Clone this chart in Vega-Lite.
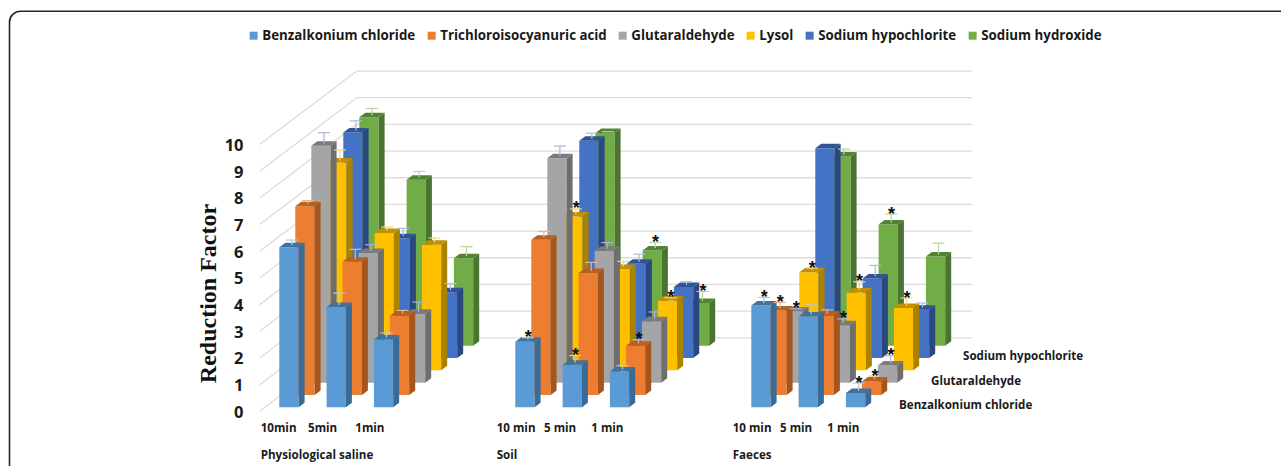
{
"$schema":"https://vega.github.io/schema/vega-lite/v6.json",
"width":1038,"height":466,"padding":{"left":243,"top":0,"right":0,"bottom":0},"autosize":"none","background":"white",
"config":{"view":{"stroke":null}},
"datasets":{
"bars":[
{"group":"Physiological saline","time":"10 min","series":"Sodium hydroxide","value":8.56,"err":0.33,"star":false},
{"group":"Physiological saline","time":"5 min","series":"Sodium hydroxide","value":6.22,"err":0.31,"star":false},
{"group":"Physiological saline","time":"1 min","series":"Sodium hydroxide","value":3.28,"err":0.43,"star":false},
{"group":"Soil","time":"10 min","series":"Sodium hydroxide","value":7.97,"err":0.05,"star":false},
{"group":"Soil","time":"5 min","series":"Sodium hydroxide","value":3.57,"err":0.3,"star":true},
{"group":"Soil","time":"1 min","series":"Sodium hydroxide","value":1.6,"err":0.43,"star":true},
{"group":"Faeces","time":"10 min","series":"Sodium hydroxide","value":7.09,"err":0.28,"star":false},
{"group":"Faeces","time":"5 min","series":"Sodium hydroxide","value":4.54,"err":0.39,"star":true},
{"group":"Faeces","time":"1 min","series":"Sodium hydroxide","value":3.34,"err":0.5,"star":false},
{"group":"Physiological saline","time":"10 min","series":"Sodium hypochlorite","value":8.45,"err":0.44,"star":false},
{"group":"Physiological saline","time":"5 min","series":"Sodium hypochlorite","value":4.49,"err":0.37,"star":false},
{"group":"Physiological saline","time":"1 min","series":"Sodium hypochlorite","value":2.46,"err":0.33,"star":false},
{"group":"Soil","time":"10 min","series":"Sodium hypochlorite","value":8.14,"err":0.29,"star":false},
{"group":"Soil","time":"5 min","series":"Sodium hypochlorite","value":3.53,"err":0.36,"star":false},
{"group":"Soil","time":"1 min","series":"Sodium hypochlorite","value":2.66,"err":0.2,"star":false},
{"group":"Faeces","time":"10 min","series":"Sodium hypochlorite","value":7.86,"err":0,"star":false},
{"group":"Faeces","time":"5 min","series":"Sodium hypochlorite","value":2.98,"err":0.49,"star":false},
{"group":"Faeces","time":"1 min","series":"Sodium hypochlorite","value":1.81,"err":0.25,"star":false},
{"group":"Physiological saline","time":"10 min","series":"Lysol","value":7.79,"err":0.47,"star":false},
{"group":"Physiological saline","time":"5 min","series":"Lysol","value":5.15,"err":0.22,"star":false},
{"group":"Physiological saline","time":"1 min","series":"Lysol","value":4.71,"err":0.25,"star":false},
{"group":"Soil","time":"10 min","series":"Lysol","value":5.77,"err":0.28,"star":true},
{"group":"Soil","time":"5 min","series":"Lysol","value":3.8,"err":0.28,"star":false},
{"group":"Soil","time":"1 min","series":"Lysol","value":2.62,"err":0.1,"star":true},
{"group":"Faeces","time":"10 min","series":"Lysol","value":3.68,"err":0.15,"star":true},
{"group":"Faeces","time":"5 min","series":"Lysol","value":2.92,"err":0.4,"star":true},
{"group":"Faeces","time":"1 min","series":"Lysol","value":2.34,"err":0.37,"star":true},
{"group":"Physiological saline","time":"10 min","series":"Glutaraldehyde","value":8.88,"err":0.49,"star":false},
{"group":"Physiological saline","time":"5 min","series":"Glutaraldehyde","value":4.86,"err":0.31,"star":false},
{"group":"Physiological saline","time":"1 min","series":"Glutaraldehyde","value":2.58,"err":0.44,"star":false},
{"group":"Soil","time":"10 min","series":"Glutaraldehyde","value":8.41,"err":0.46,"star":false},
{"group":"Soil","time":"5 min","series":"Glutaraldehyde","value":4.94,"err":0.31,"star":false},
{"group":"Soil","time":"1 min","series":"Glutaraldehyde","value":2.3,"err":0.35,"star":false},
{"group":"Faeces","time":"10 min","series":"Glutaraldehyde","value":2.67,"err":0.1,"star":true},
{"group":"Faeces","time":"5 min","series":"Glutaraldehyde","value":2.15,"err":0.24,"star":true},
{"group":"Faeces","time":"1 min","series":"Glutaraldehyde","value":0.64,"err":0.37,"star":true},
{"group":"Physiological saline","time":"10 min","series":"Trichloroisocyanuric acid","value":7.08,"err":0.21,"star":false},
{"group":"Physiological saline","time":"5 min","series":"Trichloroisocyanuric acid","value":5.0,"err":0.46,"star":false},
{"group":"Physiological saline","time":"1 min","series":"Trichloroisocyanuric acid","value":2.97,"err":0.2,"star":false},
{"group":"Soil","time":"10 min","series":"Trichloroisocyanuric acid","value":5.82,"err":0.31,"star":false},
{"group":"Soil","time":"5 min","series":"Trichloroisocyanuric acid","value":4.57,"err":0.4,"star":false},
{"group":"Soil","time":"1 min","series":"Trichloroisocyanuric acid","value":1.85,"err":0.22,"star":true},
{"group":"Faeces","time":"10 min","series":"Trichloroisocyanuric acid","value":3.17,"err":0.3,"star":true},
{"group":"Faeces","time":"5 min","series":"Trichloroisocyanuric acid","value":2.97,"err":0.22,"star":false},
{"group":"Faeces","time":"1 min","series":"Trichloroisocyanuric acid","value":0.51,"err":0.2,"star":true},
{"group":"Physiological saline","time":"10 min","series":"Benzalkonium chloride","value":6.0,"err":0.27,"star":false},
{"group":"Physiological saline","time":"5 min","series":"Benzalkonium chloride","value":3.76,"err":0.52,"star":false},
{"group":"Physiological saline","time":"1 min","series":"Benzalkonium chloride","value":2.54,"err":0.25,"star":false},
{"group":"Soil","time":"10 min","series":"Benzalkonium chloride","value":2.46,"err":0.15,"star":true},
{"group":"Soil","time":"5 min","series":"Benzalkonium chloride","value":1.6,"err":0.34,"star":true},
{"group":"Soil","time":"1 min","series":"Benzalkonium chloride","value":1.34,"err":0.22,"star":false},
{"group":"Faeces","time":"10 min","series":"Benzalkonium chloride","value":3.82,"err":0.3,"star":true},
{"group":"Faeces","time":"5 min","series":"Benzalkonium chloride","value":3.41,"err":0.46,"star":false},
{"group":"Faeces","time":"1 min","series":"Benzalkonium chloride","value":0.54,"err":0.37,"star":true}
],
"timeLabels":[
{"group":"Physiological saline","time":"10 min","label":"10min"},
{"group":"Physiological saline","time":"5 min","label":"5min"},
{"group":"Physiological saline","time":"1 min","label":"1min"},
{"group":"Soil","time":"10 min","label":"10 min"},
{"group":"Soil","time":"5 min","label":"5 min"},
{"group":"Soil","time":"1 min","label":"1 min"},
{"group":"Faeces","time":"10 min","label":"10 min"},
{"group":"Faeces","time":"5 min","label":"5 min"},
{"group":"Faeces","time":"1 min","label":"1 min"}
],
"groups":[{"group":"Physiological saline"},{"group":"Soil"},{"group":"Faeces"}],
"depthLabels":[{"series":"Benzalkonium chloride"},{"series":"Glutaraldehyde"},{"series":"Sodium hypochlorite"}],
"ticks":[{"tick":0},{"tick":1},{"tick":2},{"tick":3},{"tick":4},{"tick":5},{"tick":6},{"tick":7},{"tick":8},{"tick":9},{"tick":10}]
},
"encoding":{
"x":{"field":"px","type":"quantitative","scale":{"domain":[243,1281],"nice":false,"zero":false},"axis":null},
"y":{"field":"py","type":"quantitative","scale":{"domain":[-2.05,15.42],"nice":false,"zero":false},
   "axis":{"values":[0,1,2,3,4,5,6,7,8,9,10],"domain":false,"ticks":false,"grid":false,"labelPadding":0,"labelOffset":1,"labelFont":"Open Sans","labelFontWeight":"bold","labelFontSize":16.5,"labelColor":"#1a1a1a","title":"Reduction Factor","titleFont":"Liberation Serif","titleFontWeight":"bold","titleFontSize":24,"titleColor":"#111111","titleX":-23,"titleY":293}}
},
"layer":[
{"data":{"values":[{"frame":"border"}]},
 "transform":[{"calculate":"9.5","as":"px"},{"calculate":"1320","as":"px2"},{"calculate":"15.0","as":"py"},{"calculate":"-4","as":"py2"}],
 "mark":{"type":"rect","fill":"#ffffff","fillOpacity":0,"stroke":"#262626","strokeWidth":1.6,"strokeOpacity":1,"cornerRadius":11},
 "encoding":{"x2":{"field":"px2"},"y2":{"field":"py2"}}},
{"data":{"name":"ticks"},
 "transform":[{"calculate":"259.7","as":"px"},{"calculate":"356.7","as":"px2"},{"calculate":"datum.tick","as":"py"},{"calculate":"datum.tick+2.757","as":"py2"}],
 "mark":{"type":"rule","color":"#dcdcdc","strokeWidth":1.3},
 "encoding":{"x2":{"field":"px2"},"y2":{"field":"py2"}}},
{"data":{"name":"ticks"},
 "transform":[{"calculate":"356.7","as":"px"},{"calculate":"971.7","as":"px2"},{"calculate":"datum.tick+2.757","as":"py"}],
 "mark":{"type":"rule","color":"#dcdcdc","strokeWidth":1.3},
 "encoding":{"x2":{"field":"px2"}}},
{"data":{"name":"bars"},
 "transform":[
  {"calculate":"indexof(['Benzalkonium chloride','Trichloroisocyanuric acid','Glutaraldehyde','Lysol','Sodium hypochlorite','Sodium hydroxide'],datum.series)","as":"d"},
  {"calculate":"indexof(['10 min','5 min','1 min'],datum.time)","as":"t"},
  {"calculate":"indexof(['Physiological saline','Soil','Faeces'],datum.group)","as":"g"},
  {"calculate":"279.3+236*datum.g+47.3*datum.t+16*datum.d","as":"x0"},
  {"calculate":"0.15+0.4625*datum.d","as":"vb"},
  {"calculate":"datum.vb+datum.value","as":"vt"},
  {"calculate":"[{f:'front',x:datum.x0,y:datum.vt,y2:datum.vb},{f:'front',x:datum.x0+19.3,y:datum.vt,y2:datum.vb},{f:'side',x:datum.x0+19.3,y:datum.vt,y2:datum.vb},{f:'side',x:datum.x0+25.3,y:datum.vt+0.168,y2:datum.vb+0.168},{f:'top',x:datum.x0,y:datum.vt,y2:datum.vt},{f:'top',x:datum.x0+6,y:datum.vt+0.168,y2:datum.vt},{f:'top',x:datum.x0+19.3,y:datum.vt+0.168,y2:datum.vt},{f:'top',x:datum.x0+25.3,y:datum.vt+0.168,y2:datum.vt+0.168}]","as":"pts"},
  {"flatten":["pts"],"as":["p"]},
  {"calculate":"datum.p.x","as":"px"},
  {"calculate":"datum.p.y","as":"py"},
  {"calculate":"datum.p.y2","as":"py2"},
  {"calculate":"datum.series+'|'+datum.p.f","as":"face"},
  {"calculate":"datum.group+'|'+datum.time+'|'+datum.series+'|'+datum.p.f","as":"id"}
 ],
 "mark":{"type":"area","orient":"vertical","interpolate":"linear"},
 "encoding":{
  "y2":{"field":"py2"},
  "detail":{"field":"id"},
  "color":{"field":"face","type":"nominal","legend":null,"scale":{
   "domain":["Benzalkonium chloride|front","Benzalkonium chloride|side","Benzalkonium chloride|top","Trichloroisocyanuric acid|front","Trichloroisocyanuric acid|side","Trichloroisocyanuric acid|top","Glutaraldehyde|front","Glutaraldehyde|side","Glutaraldehyde|top","Lysol|front","Lysol|side","Lysol|top","Sodium hypochlorite|front","Sodium hypochlorite|side","Sodium hypochlorite|top","Sodium hydroxide|front","Sodium hydroxide|side","Sodium hydroxide|top"],
   "range":["#5B9BD5","#3A6A96","#41719C","#ED7D31","#A5561F","#B85F22","#A5A5A5","#6E6E6E","#7B7B7B","#FFC000","#AB8100","#BF9000","#4472C4","#2A4780","#2F5597","#70AD47","#4B7430","#548235"]}}}},
{"data":{"name":"bars"},
 "transform":[
  {"filter":"datum.err>0"},
  {"calculate":"indexof(['Benzalkonium chloride','Trichloroisocyanuric acid','Glutaraldehyde','Lysol','Sodium hypochlorite','Sodium hydroxide'],datum.series)","as":"d"},
  {"calculate":"indexof(['10 min','5 min','1 min'],datum.time)","as":"t"},
  {"calculate":"indexof(['Physiological saline','Soil','Faeces'],datum.group)","as":"g"},
  {"calculate":"279.3+236*datum.g+47.3*datum.t+16*datum.d+12.6","as":"px"},
  {"calculate":"0.15+0.4625*datum.d+datum.value+0.08","as":"py"},
  {"calculate":"datum.py-0.08+datum.err","as":"py2"}
 ],
 "mark":{"type":"rule","strokeWidth":1.2},
 "encoding":{"y2":{"field":"py2"},
  "color":{"field":"series","type":"nominal","legend":null,"scale":{"domain":["Benzalkonium chloride","Trichloroisocyanuric acid","Glutaraldehyde","Lysol","Sodium hypochlorite","Sodium hydroxide"],"range":["#A9CDE8","#F0B48A","#B9A9E6","#F5D67A","#A9BFE6","#B9D4A0"]}}}},
{"data":{"name":"bars"},
 "transform":[
  {"filter":"datum.err>0"},
  {"calculate":"indexof(['Benzalkonium chloride','Trichloroisocyanuric acid','Glutaraldehyde','Lysol','Sodium hypochlorite','Sodium hydroxide'],datum.series)","as":"d"},
  {"calculate":"indexof(['10 min','5 min','1 min'],datum.time)","as":"t"},
  {"calculate":"indexof(['Physiological saline','Soil','Faeces'],datum.group)","as":"g"},
  {"calculate":"279.3+236*datum.g+47.3*datum.t+16*datum.d+6.6","as":"px"},
  {"calculate":"datum.px+12","as":"px2"},
  {"calculate":"0.15+0.4625*datum.d+datum.value+datum.err","as":"py"}
 ],
 "mark":{"type":"rule","strokeWidth":1.2},
 "encoding":{"x2":{"field":"px2"},
  "color":{"field":"series","type":"nominal","legend":null,"scale":{"domain":["Benzalkonium chloride","Trichloroisocyanuric acid","Glutaraldehyde","Lysol","Sodium hypochlorite","Sodium hydroxide"],"range":["#A9CDE8","#F0B48A","#B9A9E6","#F5D67A","#A9BFE6","#B9D4A0"]}}}},
{"data":{"name":"bars"},
 "transform":[
  {"filter":"datum.star"},
  {"calculate":"indexof(['Benzalkonium chloride','Trichloroisocyanuric acid','Glutaraldehyde','Lysol','Sodium hypochlorite','Sodium hydroxide'],datum.series)","as":"d"},
  {"calculate":"indexof(['10 min','5 min','1 min'],datum.time)","as":"t"},
  {"calculate":"indexof(['Physiological saline','Soil','Faeces'],datum.group)","as":"g"},
  {"calculate":"279.3+236*datum.g+47.3*datum.t+16*datum.d+13","as":"px"},
  {"calculate":"0.15+0.4625*datum.d+datum.value+datum.err","as":"py"},
  {"calculate":"'*'","as":"mark"}
 ],
 "mark":{"type":"text","font":"Liberation Sans","fontWeight":"bold","fontSize":18,"baseline":"alphabetic","align":"center","dy":5.5,"color":"#111111"},
 "encoding":{"text":{"field":"mark"}}},
{"data":{"name":"timeLabels"},
 "transform":[
  {"calculate":"indexof(['10 min','5 min','1 min'],datum.time)","as":"t"},
  {"calculate":"indexof(['Physiological saline','Soil','Faeces'],datum.group)","as":"g"},
  {"calculate":"260.7+236*datum.g+47.3*datum.t","as":"px"},
  {"calculate":"-0.648","as":"py"}
 ],
 "mark":{"type":"text","font":"Open Sans","fontWeight":"bold","fontSize":11.6,"align":"left","baseline":"middle","color":"#1a1a1a"},
 "encoding":{"text":{"field":"label"}}},
{"data":{"name":"groups"},
 "transform":[
  {"calculate":"indexof(['Physiological saline','Soil','Faeces'],datum.group)","as":"g"},
  {"calculate":"260.7+236*datum.g","as":"px"},
  {"calculate":"-1.69","as":"py"}
 ],
 "mark":{"type":"text","font":"Open Sans","fontWeight":"bold","fontSize":11.6,"align":"left","baseline":"middle","color":"#1a1a1a"},
 "encoding":{"text":{"field":"group"}}},
{"data":{"name":"depthLabels"},
 "transform":[
  {"calculate":"indexof(['Benzalkonium chloride','Trichloroisocyanuric acid','Glutaraldehyde','Lysol','Sodium hypochlorite','Sodium hydroxide'],datum.series)","as":"d"},
  {"calculate":"899+16*datum.d","as":"px"},
  {"calculate":"0.185+0.4625*datum.d","as":"py"}
 ],
 "mark":{"type":"text","font":"Open Sans","fontWeight":"bold","fontSize":11.6,"align":"left","baseline":"middle","color":"#1a1a1a"},
 "encoding":{"text":{"field":"series"}}},
{"data":{"name":"depthLabels"},
 "transform":[{"calculate":"243","as":"px"},{"calculate":"0","as":"py"}],
 "mark":{"type":"square","opacity":0},
 "encoding":{"color":{"field":"series","type":"nominal","scale":{"domain":["Benzalkonium chloride","Trichloroisocyanuric acid","Glutaraldehyde","Lysol","Sodium hypochlorite","Sodium hydroxide"],"range":["#5B9BD5","#ED7D31","#A5A5A5","#FFC000","#4472C4","#70AD47"]},
  "legend":{"orient":"none","legendX":4,"legendY":29,"direction":"horizontal","columns":6,"title":null,"symbolType":"square","symbolSize":64,"symbolOpacity":1,"symbolStrokeWidth":0,"labelFont":"Open Sans","labelFontWeight":"bold","labelFontSize":13.3,"labelColor":"#1a1a1a","labelOffset":2,"columnPadding":9,"labelLimit":300}}}}
],
"resolve":{"scale":{"color":"independent"}}
}
